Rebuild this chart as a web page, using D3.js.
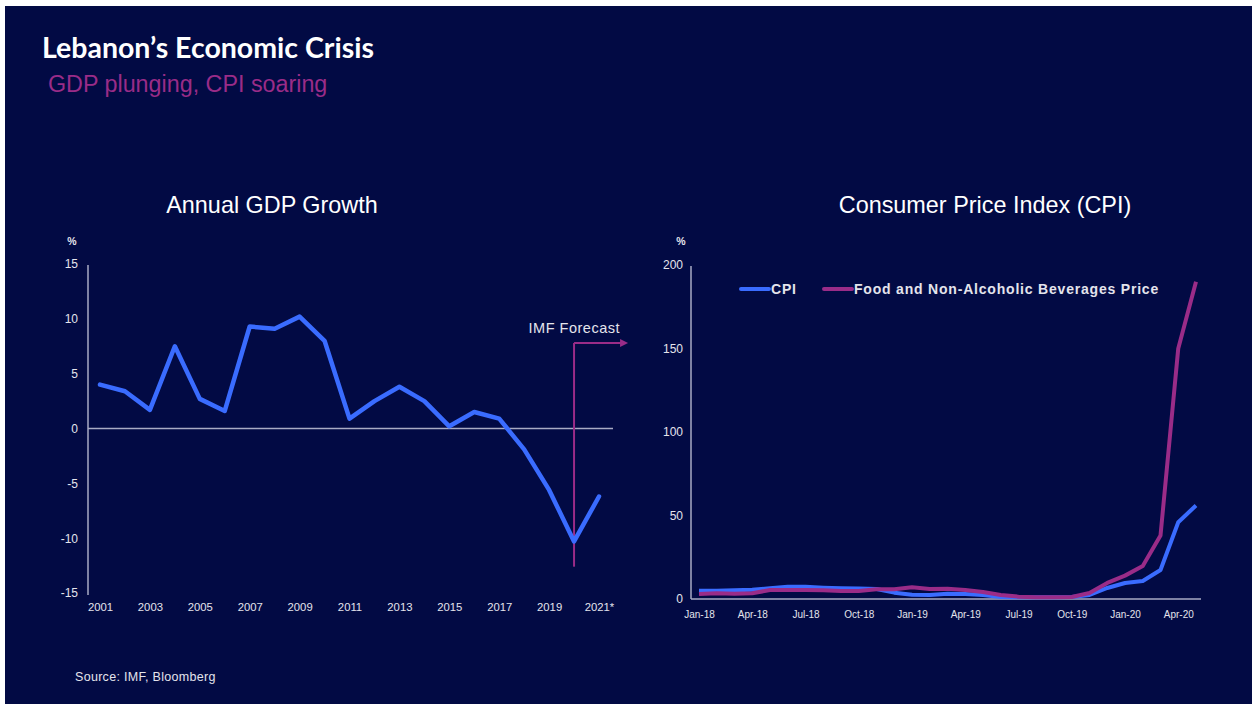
<!DOCTYPE html>
<html><head><meta charset="utf-8">
<script src="https://cdn.jsdelivr.net/npm/d3@7"></script>
<style>
html,body{margin:0;padding:0;background:#fff;}
svg{display:block;}
</style></head>
<body>
<svg id="c" width="1252" height="704"></svg>
<script>
// ---- data ----
const gdpYears = [2001,2002,2003,2004,2005,2006,2007,2008,2009,2010,2011,2012,2013,2014,2015,2016,2017,2018,2019,2020,2021];
const gdpGrowth = [4.0,3.4,1.7,7.5,2.7,1.6,9.3,9.1,10.2,8.0,0.9,2.5,3.8,2.5,0.2,1.5,0.9,-1.9,-5.6,-10.3,-6.2];
const gdpTickYears = [2001,2003,2005,2007,2009,2011,2013,2015,2017,2019,2021];
const gdpTickLabels = ["2001","2003","2005","2007","2009","2011","2013","2015","2017","2019","2021*"];
const gdpYTicks = [15,10,5,0,-5,-10,-15];
const forecastYear = 2020;

const months = ["Jan-18","Feb-18","Mar-18","Apr-18","May-18","Jun-18","Jul-18","Aug-18","Sep-18","Oct-18","Nov-18","Dec-18",
  "Jan-19","Feb-19","Mar-19","Apr-19","May-19","Jun-19","Jul-19","Aug-19","Sep-19","Oct-19","Nov-19","Dec-19",
  "Jan-20","Feb-20","Mar-20","Apr-20","May-20"];
const cpi  = [5.0,5.0,5.2,5.5,6.5,7.3,7.3,6.8,6.5,6.3,6.0,3.8,2.6,2.4,3.2,3.0,2.4,1.2,1.0,1.0,1.0,1.2,2.4,6.6,9.6,10.8,17.4,46,56];
const food = [3.0,3.4,3.2,3.4,5.4,5.4,5.4,5.2,4.8,4.8,5.8,5.8,7.0,6.0,6.2,5.4,4.2,2.4,1.4,1.0,1.0,1.2,3.6,9.6,14,19.8,38,150,190];
const cpiTickMonths = ["Jan-18","Apr-18","Jul-18","Oct-18","Jan-19","Apr-19","Jul-19","Oct-19","Jan-20","Apr-20"];
const cpiYTicks = [200,150,100,50,0];
const seriesNames = ["CPI","Food and Non-Alcoholic Beverages Price"];

// ---- style ----
const BG = "#020a44", BLUE = "#3a6cff", PURPLE = "#9a2c88", AXIS = "#a9abc4", TXT = "#e4e4ec";
const F = "'Liberation Sans', Arial, sans-serif";
const svg = d3.select("#c");
svg.append("rect").attr("x",5).attr("y",6).attr("width",1247).attr("height",698).attr("fill",BG);

svg.append("text").attr("x",42).attr("y",58).attr("fill","#fff")
  .style("font-family","Lato, 'Open Sans', sans-serif").style("font-weight",700).style("font-size","28.5px")
  .text("Lebanon’s Economic Crisis");
svg.append("text").attr("x",48).attr("y",92).attr("fill",PURPLE)
  .style("font-family",F).style("font-size","23.3px")
  .text("GDP plunging, CPI soaring");
svg.append("text").attr("x",75).attr("y",681).attr("fill",TXT)
  .style("font-family",F).style("font-size","12.5px").style("letter-spacing","0.3px")
  .text("Source: IMF, Bloomberg");

// ---- left chart: GDP ----
const xL = d3.scaleLinear().domain([2001,2021]).range([100,599]);
const yL = d3.scaleLinear().domain([-15,15]).range([593,264]);
const gL = svg.append("g");
gL.append("text").attr("x",272).attr("y",213).attr("text-anchor","middle").attr("fill","#fff")
  .style("font-family",F).style("font-size","23.4px").text("Annual GDP Growth");
gL.append("text").attr("x",72).attr("y",245).attr("text-anchor","middle").attr("fill",TXT)
  .style("font-family",F).style("font-size","10.5px").style("font-weight",700).text("%");
const axL = d3.axisLeft(yL).tickValues(gdpYTicks).tickSize(0).tickPadding(10).tickFormat(d=>d);
const gAxL = gL.append("g").attr("transform","translate(88,0)").call(axL);
gAxL.select(".domain").attr("stroke",AXIS).attr("stroke-width",1.5).attr("d",`M0,${yL(15)+1}V${yL(-15)+2}`);
gAxL.selectAll("text").attr("fill",TXT).style("font-family",F).style("font-size","12px");
gL.append("line").attr("x1",88).attr("x2",613).attr("y1",yL(0)).attr("y2",yL(0)).attr("stroke",AXIS).attr("stroke-width",1.5);
const axLx = d3.axisBottom(xL).tickValues(gdpTickYears).tickSize(0).tickPadding(0)
  .tickFormat((d,i)=>gdpTickLabels[i]);
const gAxLx = gL.append("g").attr("transform","translate(0,603)").call(axLx);
gAxLx.select(".domain").remove();
gAxLx.selectAll("text").attr("fill",TXT).style("font-family",F).style("font-size","11.3px");
// forecast marker
const fx = xL(forecastYear);
gL.append("line").attr("x1",fx).attr("x2",fx).attr("y1",yL(7.8)).attr("y2",yL(-12.6))
  .attr("stroke",PURPLE).attr("stroke-width",2);
gL.append("line").attr("x1",fx).attr("x2",fx+48).attr("y1",yL(7.8)).attr("y2",yL(7.8))
  .attr("stroke",PURPLE).attr("stroke-width",2);
gL.append("path").attr("d",`M${fx+46},${yL(7.8)-4}L${fx+54},${yL(7.8)}L${fx+46},${yL(7.8)+4}Z`).attr("fill",PURPLE);
gL.append("text").attr("x",620).attr("y",333).attr("text-anchor","end").attr("fill",TXT)
  .style("font-family",F).style("font-size","14.5px").style("letter-spacing","0.5px").text("IMF Forecast");
gL.append("path").datum(gdpGrowth)
  .attr("d",d3.line().x((d,i)=>xL(gdpYears[i])).y(d=>yL(d)))
  .attr("fill","none").attr("stroke",BLUE).attr("stroke-width",4.5).attr("stroke-linejoin","round").attr("stroke-linecap","round");

// ---- right chart: CPI ----
const xR = d3.scalePoint().domain(months).range([699,1196]);
const yR = d3.scaleLinear().domain([0,200]).range([599,265]);
const gR = svg.append("g");
gR.append("text").attr("x",985).attr("y",213).attr("text-anchor","middle").attr("fill","#fff")
  .style("font-family",F).style("font-size","23.4px").text("Consumer Price Index (CPI)");
gR.append("text").attr("x",681).attr("y",245).attr("text-anchor","middle").attr("fill",TXT)
  .style("font-family",F).style("font-size","10.5px").style("font-weight",700).text("%");
const axR = d3.axisLeft(yR).tickValues(cpiYTicks).tickSize(0).tickPadding(8).tickFormat(d=>d);
const gAxR = gR.append("g").attr("transform","translate(691,0)").call(axR);
gAxR.select(".domain").attr("stroke",AXIS).attr("stroke-width",1.5).attr("d",`M0,${yR(200)+1}V${yR(0)}`);
gAxR.selectAll("text").attr("fill",TXT).style("font-family",F).style("font-size","12px");
gR.append("line").attr("x1",691).attr("x2",1201).attr("y1",yR(0)).attr("y2",yR(0)).attr("stroke",AXIS).attr("stroke-width",1.5);
const axRx = d3.axisBottom(xR).tickValues(cpiTickMonths).tickSize(0).tickPadding(0);
const gAxRx = gR.append("g").attr("transform","translate(0,611)").call(axRx);
gAxRx.select(".domain").remove();
gAxRx.selectAll("text").attr("fill",TXT).style("font-family",F).style("font-size","10px");

const lineR = d3.line().x((d,i)=>xR(months[i])).y(d=>yR(d));
gR.append("path").datum(cpi).attr("d",lineR).attr("fill","none").attr("stroke",BLUE)
  .attr("stroke-width",4).attr("stroke-linejoin","round");
gR.append("path").datum(food).attr("d",lineR).attr("fill","none").attr("stroke",PURPLE)
  .attr("stroke-width",4).attr("stroke-linejoin","round");

// legend
const legX = [741, 824], legC = [BLUE, PURPLE];
seriesNames.forEach((n,i)=>{
  gR.append("line").attr("x1",legX[i]).attr("x2",legX[i]+28).attr("y1",289).attr("y2",289)
    .attr("stroke",legC[i]).attr("stroke-width",4).attr("stroke-linecap","round");
  gR.append("text").attr("x",legX[i]+30).attr("y",294).attr("fill",TXT)
    .style("font-family",F).style("font-size","14px").style("font-weight",700).style("letter-spacing","0.8px").text(n);
});
</script>
</body></html>
